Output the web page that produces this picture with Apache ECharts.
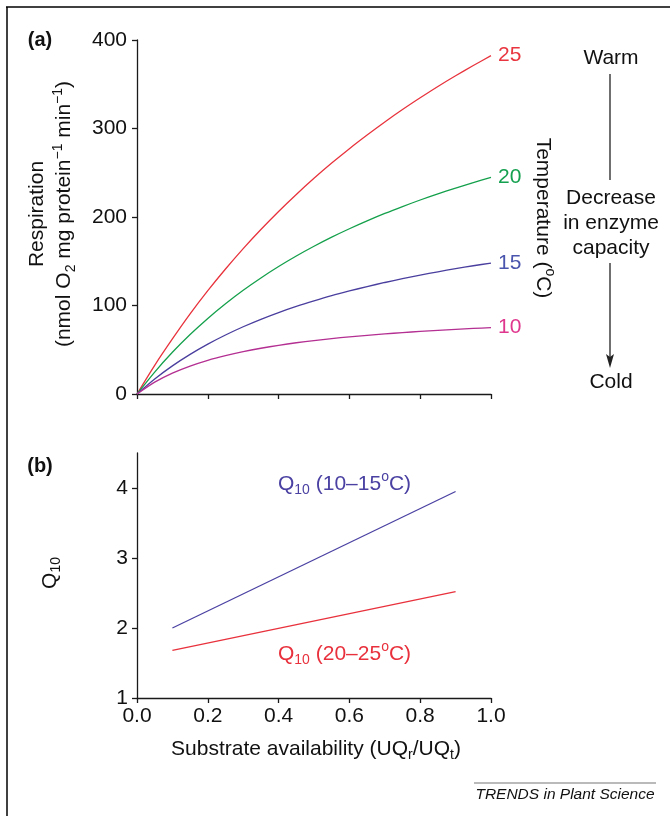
<!DOCTYPE html>
<html>
<head>
<meta charset="utf-8">
<script src="https://cdn.jsdelivr.net/npm/echarts@6/dist/echarts.min.js"></script>
<style>
html,body{margin:0;padding:0;background:#fff;}
#chart{width:670px;height:816px;}
</style>
</head>
<body>
<div id="chart"></div>
<script>
// ---- data ----
const substrate = [0, 0.05, 0.1, 0.15, 0.2, 0.25, 0.3, 0.35, 0.4, 0.45, 0.5, 0.55, 0.6, 0.65, 0.7, 0.75, 0.8, 0.85, 0.9, 0.95, 1.0];
const resp25 = [0, 32.4, 62.2, 90.5, 116.7, 141.2, 164.3, 185.9, 206.3, 225.5, 243.7, 260.9, 277.2, 292.6, 307.4, 321.4, 334.7, 347.5, 359.6, 371.2, 382.3];
const resp20 = [0, 24.8, 47.1, 67.2, 85.4, 102.0, 117.2, 131.1, 144.0, 155.9, 166.9, 177.2, 186.7, 195.6, 204.0, 211.8, 219.2, 226.2, 232.7, 238.9, 244.8];
const resp15 = [0, 17.0, 31.8, 44.8, 56.4, 66.7, 76.0, 84.4, 92.0, 98.9, 105.2, 111.1, 116.4, 121.4, 126.0, 130.3, 134.3, 138.1, 141.6, 144.9, 148.0];
const resp10 = [0, 13.4, 23.6, 31.6, 38.1, 43.4, 47.9, 51.7, 55.0, 57.9, 60.4, 62.6, 64.6, 66.3, 67.9, 69.4, 70.7, 71.9, 73.0, 74.1, 75.0];
const tempLabels = ['25', '20', '15', '10'];

const q10X = [0.1, 0.9];
const q10Low = [2.0, 3.95];   // Q10 (10–15 °C)
const q10High = [1.68, 2.52]; // Q10 (20–25 °C)

const respTicks = [0, 100, 200, 300, 400];
const q10Ticks = [1, 2, 3, 4];
const xTicks = [0, 0.2, 0.4, 0.6, 0.8, 1.0];

// ---- styling ----
const FONT = 'Liberation Sans, Arial, Helvetica, sans-serif';
const FS = 21;
const AX = '#1a1a1a';
const lineColors = ['#e8333d', '#15a04c', '#4a3f9e', '#b42f92'];
const labelColors = ['#e8353f', '#14a04f', '#4a55ad', '#e0378e'];
const qBlue = '#4a41a2', qRed = '#e8313c';

function pairs(xs, ys) { return xs.map((x, i) => [x, ys[i]]); }

const chart = echarts.init(document.getElementById('chart'), null, {renderer: 'canvas'});

const baseRich = (color, size) => ({
  n: {fontFamily: FONT, fontSize: size, color: color, lineHeight: 27},
  sub: {fontFamily: FONT, fontSize: Math.round(size * 0.65), color: color, verticalAlign: 'bottom', lineHeight: 16},
  sup: {fontFamily: FONT, fontSize: Math.round(size * 0.65), color: color, verticalAlign: 'top', lineHeight: 16}
});

function txt(x, y, text, opts) {
  opts = opts || {};
  const color = opts.color || '#111';
  const size = opts.size || FS;
  return {
    type: 'text', x: x, y: y, rotation: opts.rotation || 0, silent: true,
    style: {
      text: text, fill: color,
      font: (opts.italic ? 'italic ' : '') + (opts.weight || 'normal') + ' ' + size + 'px ' + FONT,
      fontStyle: opts.italic ? 'italic' : 'normal',
      fontWeight: opts.weight || 'normal',
      fontSize: size, fontFamily: FONT,
      align: opts.align || 'center', textAlign: opts.align || 'center',
      verticalAlign: 'middle', textVerticalAlign: 'middle',
      rich: baseRich(color, size)
    }
  };
}

const valueAxisCommon = {
  type: 'value',
  axisLine: {show: true, lineStyle: {color: AX, width: 1.3}},
  axisTick: {show: true, length: 5, inside: false, lineStyle: {color: AX, width: 1.3}},
  splitLine: {show: false},
  axisLabel: {fontFamily: FONT, fontSize: FS, color: '#111'}
};

const lineSeries = [resp25, resp20, resp15, resp10].map((vals, i) => ({
  type: 'line', name: tempLabels[i], xAxisIndex: 0, yAxisIndex: 0,
  data: pairs(substrate, vals), smooth: 0.25, showSymbol: false, symbol: 'none',
  lineStyle: {color: lineColors[i], width: 1.3},
  endLabel: {show: true, formatter: tempLabels[i], color: labelColors[i], fontFamily: FONT, fontSize: FS, distance: 7},
  animation: false, silent: true
}));

const option = {
  backgroundColor: '#fff',
  animation: false,
  grid: [
    {left: 137, top: 40, width: 354, height: 354},
    {left: 137, top: 453, width: 354, height: 245}
  ],
  xAxis: [
    Object.assign({}, valueAxisCommon, {gridIndex: 0, min: 0, max: 1, interval: 0.2,
      axisLabel: {show: false}}),
    Object.assign({}, valueAxisCommon, {gridIndex: 1, min: 0, max: 1, interval: 0.2,
      axisLabel: {fontFamily: FONT, fontSize: FS, color: '#111', margin: 8,
        formatter: v => v.toFixed(1)}})
  ],
  yAxis: [
    Object.assign({}, valueAxisCommon, {gridIndex: 0, min: 0, max: 400, interval: 100,
      axisLabel: {fontFamily: FONT, fontSize: FS, color: '#111', margin: 10}}),
    Object.assign({}, valueAxisCommon, {gridIndex: 1, min: 1, max: 4.5, interval: 1,
      axisTick: {show: true, length: 5, lineStyle: {color: AX, width: 1.3}, customValues: q10Ticks},
      axisLabel: {fontFamily: FONT, fontSize: FS, color: '#111', margin: 9, customValues: q10Ticks}})
  ],
  series: lineSeries.concat([
    {type: 'line', xAxisIndex: 1, yAxisIndex: 1, data: pairs(q10X, q10Low), showSymbol: false, symbol: 'none',
      lineStyle: {color: qBlue, width: 1.3}, silent: true},
    {type: 'line', xAxisIndex: 1, yAxisIndex: 1, data: pairs(q10X, q10High), showSymbol: false, symbol: 'none',
      lineStyle: {color: qRed, width: 1.3}, silent: true}
  ]),
  graphic: [
    // frame lines
    {type: 'line', silent: true, shape: {x1: 6, y1: 7, x2: 670, y2: 7}, style: {stroke: '#000', lineWidth: 1.5}},
    {type: 'line', silent: true, shape: {x1: 7, y1: 7, x2: 7, y2: 816}, style: {stroke: '#000', lineWidth: 1.5}},
    // panel labels
    txt(40, 40, '(a)', {weight: 'bold', size: 20}),
    txt(40, 466, '(b)', {weight: 'bold', size: 20}),
    // y axis titles
    txt(51, 214, '{n|Respiration}\n{n|(nmol O}{sub|2}{n| mg protein}{sup|−1}{n| min}{sup|−1}{n|)}', {rotation: Math.PI / 2}),
    txt(50, 573, '{n|Q}{sub|10}', {rotation: Math.PI / 2}),
    txt(543, 218, '{n|Temperature (}{sup|o}{n|C)}', {rotation: -Math.PI / 2}),
    // x axis title
    txt(316, 749, '{n|Substrate availability (UQ}{sub|r}{n|/UQ}{sub|t}{n|)}'),
    // Q10 line labels
    txt(278, 484, '{n|Q}{sub|10}{n| (10–15}{sup|o}{n|C)}', {color: qBlue, align: 'left'}),
    txt(278, 654, '{n|Q}{sub|10}{n| (20–25}{sup|o}{n|C)}', {color: qRed, align: 'left'}),
    // right annotation
    txt(611, 58, 'Warm'),
    {type: 'line', silent: true, shape: {x1: 610, y1: 74, x2: 610, y2: 180}, style: {stroke: '#222', lineWidth: 1.3}},
    txt(611, 198, 'Decrease'),
    txt(611, 223, 'in enzyme'),
    txt(611, 248, 'capacity'),
    {type: 'line', silent: true, shape: {x1: 610, y1: 263, x2: 610, y2: 360}, style: {stroke: '#222', lineWidth: 1.3}},
    {type: 'polygon', silent: true, shape: {points: [[606, 354], [610, 368], [614, 354], [610, 357]]}, style: {fill: '#222'}},
    txt(611, 382, 'Cold'),
    // footer
    {type: 'line', silent: true, shape: {x1: 474, y1: 783, x2: 656, y2: 783}, style: {stroke: '#777', lineWidth: 1.2}},
    txt(565, 795, 'TRENDS in Plant Science', {italic: true, size: 15.5})
  ]
};

chart.setOption(option);
</script>
</body>
</html>
